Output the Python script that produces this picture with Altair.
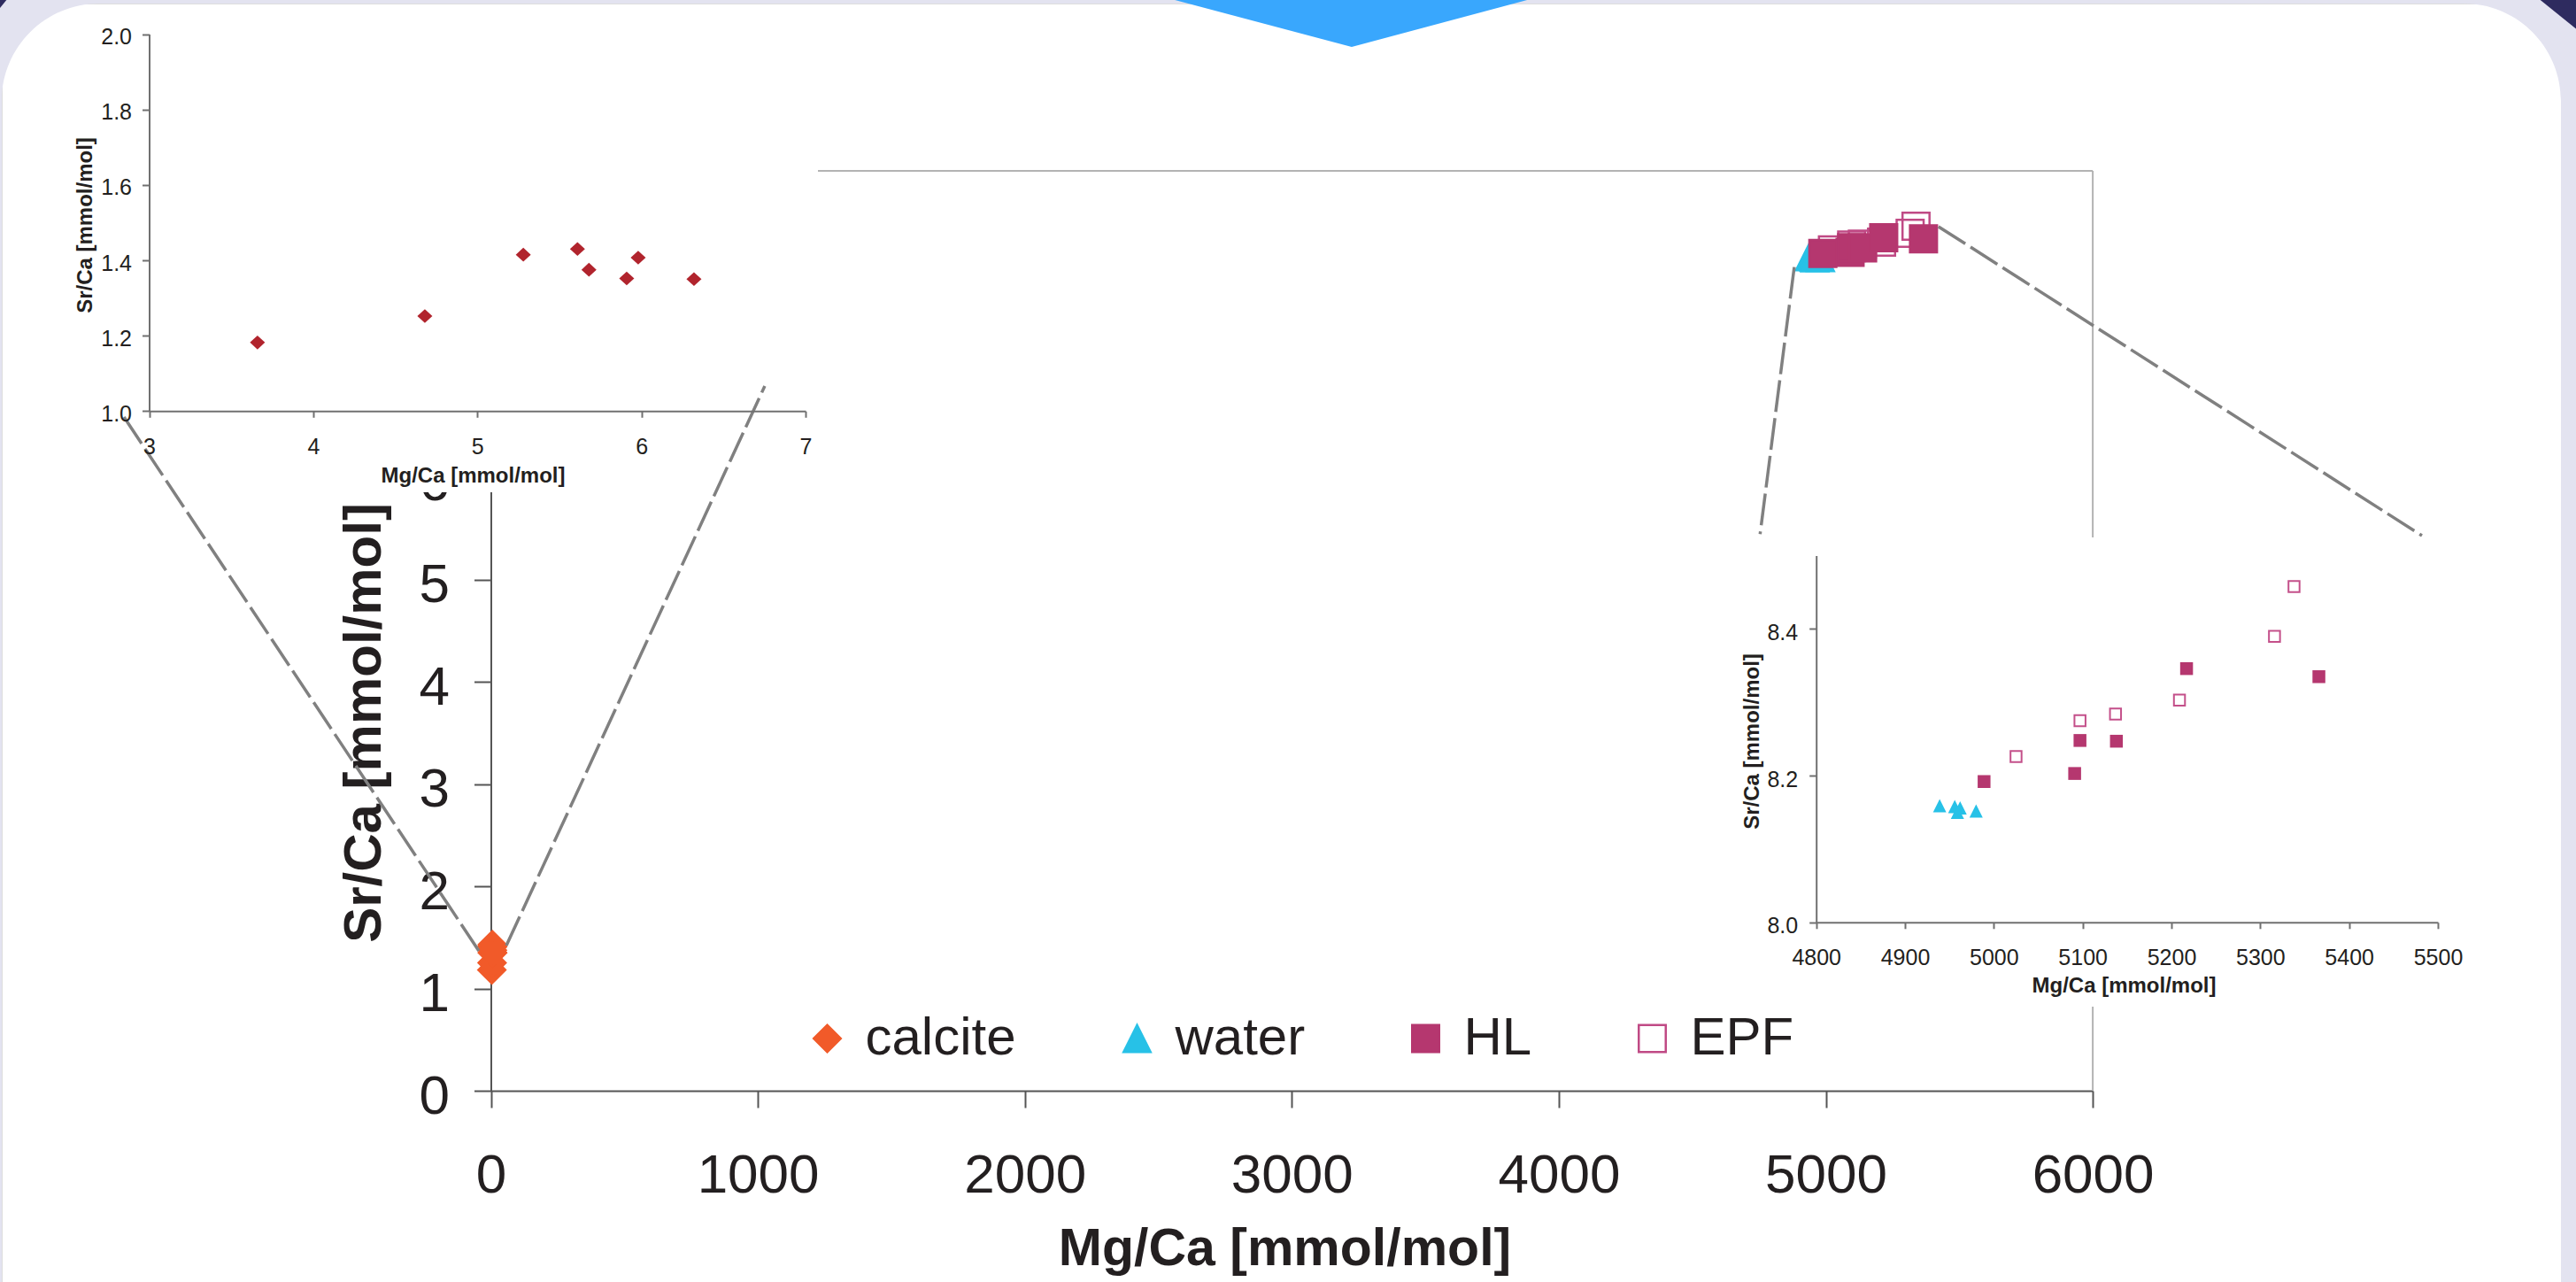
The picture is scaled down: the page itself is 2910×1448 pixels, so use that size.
import altair as alt
import pandas as pd

FONT = "Liberation Sans"
INK = "#231f20"

# ---------------- data (Mg/Ca, Sr/Ca in mmol/mol) ----------------
calcite_mg = [3.66, 4.68, 5.28, 5.61, 5.68, 5.91, 5.98, 6.32]
calcite_sr = [1.182, 1.252, 1.415, 1.430, 1.375, 1.352, 1.407, 1.350]
water_mg = [4939, 4956, 4959, 4962, 4980]
water_sr = [8.159, 8.158, 8.150, 8.156, 8.152]
hl_mg = [4989, 5091, 5097, 5138, 5217, 5366]
hl_sr = [8.192, 8.203, 8.248, 8.247, 8.346, 8.335]
epf_mg = [5025, 5097, 5137, 5209, 5316, 5338]
epf_sr = [8.226, 8.275, 8.284, 8.303, 8.390, 8.458]

groups = ["calcite", "water", "HL", "EPF"]
group_stroke = ["#f15a29", "#27c1e7", "#b5376f", "#c04a85"]
group_fill = ["#f15a29", "#27c1e7", "#b5376f", "transparent"]
TRI = "M0,-1L1,1L-1,1Z"
group_shape = ["diamond", TRI, "square", "square"]

main_x_ticks = [0, 1000, 2000, 3000, 4000, 5000, 6000]
main_y_ticks = [0, 1, 2, 3, 4, 5, 6, 7, 8, 9]
left_x_ticks = [3, 4, 5, 6, 7]
left_y_ticks = [1.0, 1.2, 1.4, 1.6, 1.8, 2.0]
right_x_ticks = [4800, 4900, 5000, 5100, 5200, 5300, 5400, 5500]
right_y_ticks = [8.0, 8.2, 8.4]

# zoom call-out lines, in main-chart data units
lead_x1 = [-45, 58, 4882, 5422]
lead_y1 = [1.369, 1.421, 8.059, 8.455]
lead_x2 = [-1381, 1026, 4754, 7233]
lead_y2 = [6.618, 6.895, 5.446, 5.431]

# plot frame of the main chart (data units)
frame_x1 = [0, 6000]
frame_x2 = [6000, 6000]
frame_y1 = [9, 0]
frame_y2 = [9, 9]

# ---------------- tables ----------------
def series(name, mg, sr):
    return pd.DataFrame({"mg": mg, "sr": sr, "group": [name] * len(mg)})

calc_df = series("calcite", calcite_mg, calcite_sr)
water_df = series("water", water_mg, water_sr)
hl_df = series("HL", hl_mg, hl_sr)
epf_df = series("EPF", epf_mg, epf_sr)
main_df = pd.concat([calc_df, water_df, epf_df, hl_df], ignore_index=True)
lead_df = pd.DataFrame({"x1": lead_x1, "y1": lead_y1, "x2": lead_x2, "y2": lead_y2})
frame_df = pd.DataFrame({"x1": frame_x1, "x2": frame_x2, "y1": frame_y1, "y2": frame_y2})
one = pd.DataFrame({"k": [0]})

# ---------------- layout (view pixels) ----------------
W, H = 2891, 1444
MX = alt.Scale(domain=[0, 6000], range=[552.5, 2362.1], nice=False, zero=False)
MY = alt.Scale(domain=[0, 9], range=[1228, 189], nice=False, zero=False)
LX = alt.Scale(domain=[3, 7], range=[166.5, 908.0], nice=False, zero=False)
LY = alt.Scale(domain=[1, 2], range=[460.3, 34.6], nice=False, zero=False)
RX = alt.Scale(domain=[4800, 5500], range=[2049.7, 2752.0], nice=False, zero=False)
RY = alt.Scale(domain=[8.0, 8.5], range=[1037.8, 623.6], nice=False, zero=False)


def axis(orient, offset, values, fmt, tick, lsize, lpad, loff, title, tsize,
         tx, ty, z, color, width):
    kw = dict(orient=orient, offset=offset, values=values, format=fmt,
              tickSize=tick, tickWidth=width, tickColor=color,
              domainColor=color, domainWidth=width,
              labelFontSize=lsize, labelPadding=lpad, labelColor=INK,
              labelFont=FONT, labelFlush=False, labelOverlap=False,
              grid=False, title=title, titleFont=FONT, titleFontSize=tsize,
              titleFontWeight="bold", titleColor=INK, titleX=tx, titleY=ty,
              titleBaseline="alphabetic", titleAlign="center", zindex=z)
    if loff:
        kw["labelOffset"] = loff
    if orient == "left":
        kw["titleAngle"] = 270
    return alt.Axis(**kw)


MAIN_XAX = axis("bottom", 1228 - H, main_x_ticks, "d", 19, 62, 46, 0,
                "Mg/Ca [mmol/mol]", 59, 1449, 196, 0, "#555555", 2)
MAIN_YAX = axis("left", -552.5, main_y_ticks, "d", 19, 62, 28, 6,
                "Sr/Ca [mmol/mol]", 60, -125, 812, 0, "#555555", 2)
LEFT_XAX = axis("bottom", 460.3 - H, left_x_ticks, "d", 7, 25, 21, 0,
                "Mg/Ca [mmol/mol]", 24, 532, 80, 1, "#707070", 2)
LEFT_YAX = axis("left", -166.5, left_y_ticks, ".1f", 8, 25, 12, 3,
                "Sr/Ca [mmol/mol]", 24, -65, 250, 1, "#707070", 2)
RIGHT_XAX = axis("bottom", 1037.8 - H, right_x_ticks, "d", 7, 25, 21, 0,
                 "Mg/Ca [mmol/mol]", 24, 2397, 79, 1, "#707070", 2)
RIGHT_YAX = axis("left", -2049.7, right_y_ticks, ".1f", 8, 25, 13, 4,
                 "Sr/Ca [mmol/mol]", 24, -65, 833, 1, "#707070", 2)

LEG = alt.Legend(orient="none", legendX=902.5, legendY=1139,
                 direction="horizontal", title=None, labelFontSize=60,
                 labelFont=FONT, labelColor=INK, symbolSize=930,
                 symbolStrokeWidth=2.5, labelOffset=13, columnPadding=106,
                 padding=0, labelLimit=400)

# ---------------- decorations (page frame) ----------------
LAV = "#e3e3f0"
NAVY = "#2e2b5f"

def vrect(x1, x2, y1, y2, color="white"):
    return alt.Chart(one).mark_rect(color=color).encode(
        x=alt.value(x1), x2=alt.value(x2), y=alt.value(y1), y2=alt.value(y2))

def vshape(path, size, x, y, color):
    return alt.Chart(one).mark_point(shape=path, size=size, filled=True,
                                     color=color, opacity=1, strokeWidth=0).encode(
        x=alt.value(x), y=alt.value(y))

deco = alt.layer(
    vrect(-2, W + 17, -4, 0, LAV),
    vrect(-2, 0, -4, H, LAV),
    vrect(W, W + 17, -4, H, LAV),
    vshape("M0,0L1,0A1,1 0 0,0 0,1Z", 48400, 0, 0, LAV),
    vshape("M0,0L-1,0A1,1 0 0,1 0,1Z", 48400, W, 0, LAV),
    vshape("M-1.02,-0.05L1.02,-0.05L0.004,0.222Z", 228484, 1524, -4, "#39a7fd"),
    vshape("M-1,-0.2L1.3,-0.2L1.3,1.65Z", 2116, 2885, -4, NAVY),
    vshape("M-1.6,-0.2L1,-0.2L-1.6,3Z", 64, 2, -4, NAVY),
)

# ---------------- main chart ----------------
frame = alt.Chart(frame_df).mark_rule(color="#b3b3b3", strokeWidth=2).encode(
    x=alt.X("x1:Q", scale=MX, axis=MAIN_XAX), x2="x2:Q",
    y=alt.Y("y1:Q", scale=MY, axis=MAIN_YAX), y2="y2:Q")

main_pts = alt.Chart(main_df).mark_point(filled=False, size=930, strokeWidth=2.5,
                                         opacity=1).encode(
    x=alt.X("mg:Q", scale=MX, axis=MAIN_XAX),
    y=alt.Y("sr:Q", scale=MY, axis=MAIN_YAX),
    color=alt.Color("group:N", scale=alt.Scale(domain=groups, range=group_stroke), legend=LEG),
    fill=alt.Fill("group:N", scale=alt.Scale(domain=groups, range=group_fill), legend=LEG),
    shape=alt.Shape("group:N", scale=alt.Scale(domain=groups, range=group_shape), legend=LEG),
)
main = alt.layer(frame, main_pts)

# ---------------- left inset (calcite) ----------------
left_box = vrect(420, 922, 100, 552)
left_ins = alt.Chart(calc_df).mark_point(shape="M0,-0.92L1,0L0,0.92L-1,0Z", size=289,
                                         filled=True, color="#b1242d", opacity=1,
                                         strokeWidth=0).encode(
    x=alt.X("mg:Q", scale=LX, axis=LEFT_XAX),
    y=alt.Y("sr:Q", scale=LY, axis=LEFT_YAX))

# ---------------- right inset (water, HL, EPF) ----------------
right_box = vrect(1953, 2788, 603, 1133)

def rlayer(df, **mk):
    return alt.Chart(df).mark_point(opacity=1, **mk).encode(
        x=alt.X("mg:Q", scale=RX, axis=RIGHT_XAX),
        y=alt.Y("sr:Q", scale=RY, axis=RIGHT_YAX))

right_ins = alt.layer(
    rlayer(water_df, shape=TRI, size=225, filled=True, color="#27c1e7", strokeWidth=0),
    rlayer(epf_df, shape="square", size=156, filled=False, color="#c4508a",
           fill="white", strokeWidth=2),
    rlayer(hl_df, shape="square", size=210, filled=True, color="#b5376f", strokeWidth=0),
)

# ---------------- call-out lines ----------------
leaders = alt.Chart(lead_df).mark_rule(color="#808080", strokeWidth=3.5,
                                       strokeDash=[36, 7]).encode(
    x=alt.X("x1:Q", scale=MX, axis=None), x2="x2:Q",
    y=alt.Y("y1:Q", scale=MY, axis=None), y2="y2:Q")

chart = alt.layer(deco, main, left_box, left_ins, right_box, right_ins, leaders).resolve_scale(
    x="independent", y="independent"
).properties(
    width=W, height=H,
    padding={"left": 2, "top": 4, "right": 17, "bottom": 0},
    autosize=alt.AutoSizeParams(type="none"),
    background="white",
).configure_view(strokeWidth=0).configure(font=FONT)

chart.save("out.html", embed_options={"renderer": "svg", "actions": False})
